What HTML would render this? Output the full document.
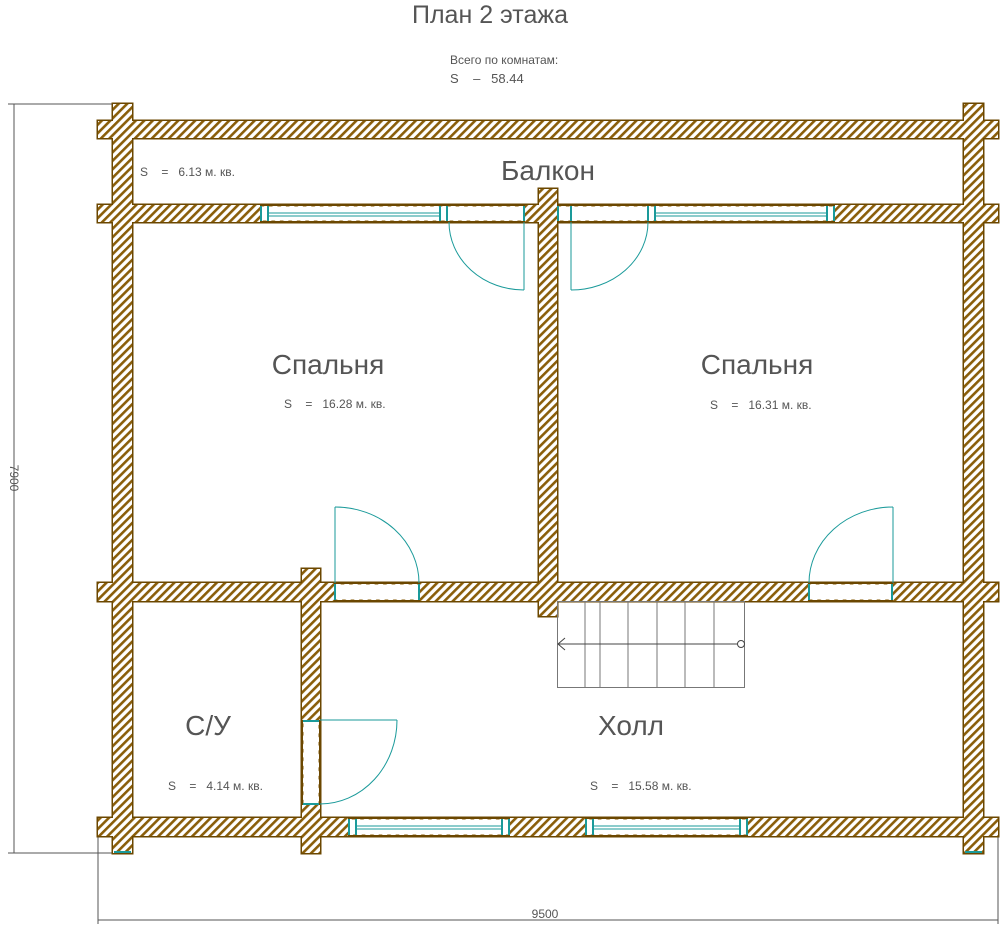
<!DOCTYPE html>
<html><head><meta charset="utf-8"><style>
body{margin:0;background:#fff;}
svg{display:block;font-family:"Liberation Sans Narrow","Liberation Sans",sans-serif;}
</style></head><body>
<svg width="1000" height="926" viewBox="0 0 1000 926" xmlns="http://www.w3.org/2000/svg">
<defs>
<pattern id="h" width="6" height="6" patternUnits="userSpaceOnUse" patternTransform="rotate(45)">
<rect width="6" height="6" fill="#fff"/><rect width="2.6" height="6" fill="#8a5e0a"/>
</pattern>
</defs>
<g stroke="#555" stroke-width="1" fill="none">
<line x1="14" y1="104" x2="14" y2="853"/>
<line x1="8" y1="104" x2="120" y2="104"/>
<line x1="8" y1="853" x2="120" y2="853"/>
<line x1="98" y1="920" x2="998" y2="920"/>
<line x1="98" y1="836" x2="98" y2="924"/>
<line x1="998" y1="836" x2="998" y2="924"/>
</g>
<g fill="#555" font-size="12">
<text x="545" y="918" text-anchor="middle">9500</text>
<text transform="translate(10,478) rotate(90)" text-anchor="middle">7900</text>
</g>
<g stroke="#6b4700" stroke-width="3">
<rect x="98" y="121" width="900" height="17"/>
<rect x="98" y="205" width="900" height="17"/>
<rect x="98" y="583" width="900" height="18"/>
<rect x="98" y="818" width="900" height="18"/>
<rect x="113" y="104" width="19" height="749"/>
<rect x="964" y="104" width="19" height="749"/>
<rect x="539" y="189" width="18" height="427"/>
<rect x="302" y="569" width="18" height="284"/>
</g>
<g fill="url(#h)">
<rect x="98" y="121" width="900" height="17"/>
<rect x="98" y="205" width="900" height="17"/>
<rect x="98" y="583" width="900" height="18"/>
<rect x="98" y="818" width="900" height="18"/>
<rect x="113" y="104" width="19" height="749"/>
<rect x="964" y="104" width="19" height="749"/>
<rect x="539" y="189" width="18" height="427"/>
<rect x="302" y="569" width="18" height="284"/>
</g>
<g fill="#fff" stroke="none">
<rect x="260" y="206.5" width="265" height="14"/>
<rect x="557" y="206.5" width="278" height="14"/>
<rect x="348" y="819.5" width="162" height="15"/>
<rect x="585" y="819.5" width="163" height="15"/>
<rect x="334" y="584.5" width="86" height="15"/>
<rect x="808" y="584.5" width="85" height="15"/>
<rect x="303.5" y="720" width="15" height="85"/>
</g>
<g stroke="#6b4700" stroke-width="2">
<line x1="260" y1="205" x2="525" y2="205"/><line x1="260" y1="222" x2="525" y2="222"/>
<line x1="557" y1="205" x2="835" y2="205"/><line x1="557" y1="222" x2="835" y2="222"/>
<line x1="348" y1="818" x2="510" y2="818"/><line x1="348" y1="836" x2="510" y2="836"/>
<line x1="585" y1="818" x2="748" y2="818"/><line x1="585" y1="836" x2="748" y2="836"/>
<line x1="334" y1="583" x2="420" y2="583"/><line x1="334" y1="601" x2="420" y2="601"/>
<line x1="808" y1="583" x2="893" y2="583"/><line x1="808" y1="601" x2="893" y2="601"/>
<line x1="302" y1="720" x2="302" y2="805"/><line x1="320" y1="720" x2="320" y2="805"/>
</g>
<g stroke="#1a9a9a" stroke-width="2" fill="none">
<line x1="261" y1="206" x2="261" y2="221"/><line x1="268" y1="206" x2="268" y2="221"/>
<line x1="440" y1="206" x2="440" y2="221"/><line x1="447" y1="206" x2="447" y2="221"/><line x1="524" y1="206" x2="524" y2="221"/>
<line x1="558" y1="206" x2="558" y2="221"/><line x1="571" y1="206" x2="571" y2="221"/>
<line x1="648" y1="206" x2="648" y2="221"/><line x1="655" y1="206" x2="655" y2="221"/>
<line x1="827" y1="206" x2="827" y2="221"/><line x1="834" y1="206" x2="834" y2="221"/>
<line x1="349" y1="819" x2="349" y2="835"/><line x1="356" y1="819" x2="356" y2="835"/>
<line x1="502" y1="819" x2="502" y2="835"/><line x1="509" y1="819" x2="509" y2="835"/>
<line x1="586" y1="819" x2="586" y2="835"/><line x1="593" y1="819" x2="593" y2="835"/>
<line x1="740" y1="819" x2="740" y2="835"/><line x1="747" y1="819" x2="747" y2="835"/>
<line x1="335" y1="584" x2="335" y2="600"/><line x1="419" y1="584" x2="419" y2="600"/>
<line x1="809" y1="584" x2="809" y2="600"/><line x1="892" y1="584" x2="892" y2="600"/>
<line x1="303" y1="721" x2="319" y2="721"/><line x1="303" y1="804" x2="319" y2="804"/>
<line x1="114" y1="852" x2="131" y2="852"/><line x1="965" y1="852" x2="982" y2="852"/>
</g>
<g stroke="#1a9a9a" stroke-width="1" fill="none">
<line x1="268" y1="213" x2="440" y2="213"/><line x1="268" y1="216" x2="440" y2="216"/>
<line x1="655" y1="213" x2="827" y2="213"/><line x1="655" y1="216" x2="827" y2="216"/>
<line x1="356" y1="826" x2="502" y2="826"/><line x1="356" y1="829" x2="502" y2="829"/>
<line x1="593" y1="826" x2="740" y2="826"/><line x1="593" y1="829" x2="740" y2="829"/>
<line x1="524" y1="222" x2="524" y2="290"/><path d="M449 222 A75 68 0 0 0 524 290"/>
<line x1="571" y1="222" x2="571" y2="290"/><path d="M648 222 A77 68 0 0 1 571 290"/>
<line x1="335" y1="583" x2="335" y2="507"/><path d="M335 507 A84 76 0 0 1 419 583"/>
<line x1="893" y1="583" x2="893" y2="507"/><path d="M893 507 A84 76 0 0 0 809 583"/>
<line x1="320" y1="720" x2="397" y2="720"/><path d="M397 720 A77 84 0 0 1 320 804"/>
</g>
<g stroke="#777" stroke-width="1" fill="none">
<rect x="557.5" y="601.5" width="187" height="86"/>
<line x1="585" y1="601" x2="585" y2="687"/>
<line x1="600" y1="601" x2="600" y2="687"/>
<line x1="628" y1="601" x2="628" y2="687"/>
<line x1="657" y1="601" x2="657" y2="687"/>
<line x1="685" y1="601" x2="685" y2="687"/>
<line x1="714" y1="601" x2="714" y2="687"/>
<line x1="558" y1="644" x2="738" y2="644" stroke="#444"/>
<path d="M565 638 L558 644 L565 650" stroke="#444"/>
<circle cx="741" cy="644" r="3.5" stroke="#444"/>
</g>
<g fill="#555">
<text x="490" y="23" font-size="25" text-anchor="middle">План 2 этажа</text>
<text x="450" y="64" font-size="12">Всего по комнатам:</text>
<text x="450" y="83" font-size="13">S&#160;&#160;&#160;&#160;–&#160;&#160;&#160;58.44</text>
<text x="548" y="180" font-size="28" text-anchor="middle">Балкон</text>
<text x="140" y="176" font-size="12">S&#160;&#160;&#160;&#160;=&#160;&#160;&#160;6.13 м. кв.</text>
<text x="328" y="374" font-size="28" text-anchor="middle">Спальня</text>
<text x="284" y="408" font-size="12">S&#160;&#160;&#160;&#160;=&#160;&#160;&#160;16.28 м. кв.</text>
<text x="757" y="374" font-size="28" text-anchor="middle">Спальня</text>
<text x="710" y="409" font-size="12">S&#160;&#160;&#160;&#160;=&#160;&#160;&#160;16.31 м. кв.</text>
<text x="208" y="735" font-size="28" text-anchor="middle">С/У</text>
<text x="168" y="790" font-size="12">S&#160;&#160;&#160;&#160;=&#160;&#160;&#160;4.14 м. кв.</text>
<text x="631" y="735" font-size="28" text-anchor="middle">Холл</text>
<text x="590" y="790" font-size="12">S&#160;&#160;&#160;&#160;=&#160;&#160;&#160;15.58 м. кв.</text>
</g>
</svg>
</body></html>
